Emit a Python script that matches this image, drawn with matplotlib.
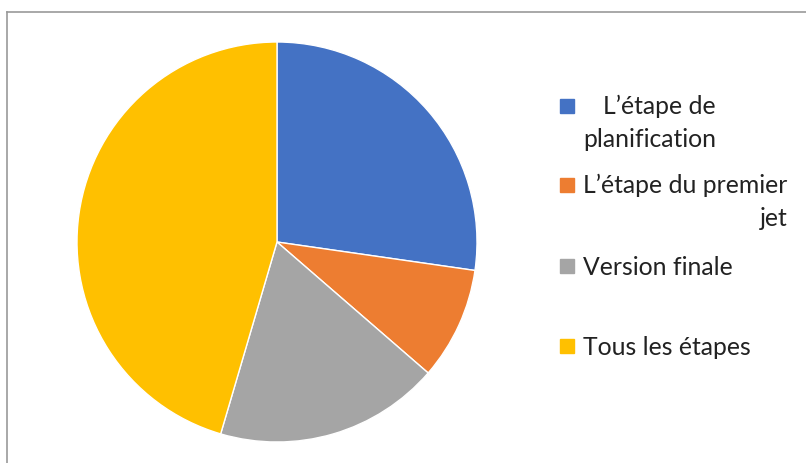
import matplotlib.pyplot as plt
from matplotlib.lines import Line2D

plt.rcParams['font.family'] = ['Lato', 'DejaVu Sans']

# values (3:1:2:5)
labels = ['L\u2019étape de\nplanification', 'L\u2019étape du premier\njet',
          'Version finale', 'Tous les étapes']
values = [3, 1, 2, 5]
colors = ['#4472C4', '#ED7D31', '#A5A5A5', '#FFC000']

fig = plt.figure(figsize=(8.06, 4.64), dpi=100)

# pie, centre ~ (277, 243) px, radius ~200 px
ax = fig.add_axes([77 / 806, 21 / 464, 400 / 806, 400 / 464])
ax.pie(values, colors=colors, startangle=90, counterclock=False,
       wedgeprops=dict(edgecolor='white', linewidth=1))
ax.set_xlim(-1, 1)
ax.set_ylim(-1, 1)
ax.set_aspect('equal')

# legend drawn by hand, to get the odd wrapping of the original
ys = [107, 186, 267, 347]   # centre of each square, px from top
line_px = 32
for lab, c, y in zip(labels, colors, ys):
    fig.patches.append(plt.Rectangle((560 / 806, 1 - (y + 7) / 464), 14 / 806, 14 / 464,
                                     transform=fig.transFigure, color=c))
    n = lab.count('\n')
    fig.text(583 / 806, 1 - (y + 8 + n * line_px) / 464, lab, fontsize=17.8,
             color='#222222', ha='left', va='baseline', multialignment='right',
             linespacing=1.5)

# chart border (only top and left visible)
fig.add_artist(Line2D([7.5 / 806, 7.5 / 806], [0, 1 - 12.5 / 464],
                      transform=fig.transFigure, color='#999999', lw=1.2))
fig.add_artist(Line2D([7.5 / 806, 1], [1 - 12.5 / 464, 1 - 12.5 / 464],
                      transform=fig.transFigure, color='#999999', lw=1.2))

plt.savefig('out.png', dpi=100)
